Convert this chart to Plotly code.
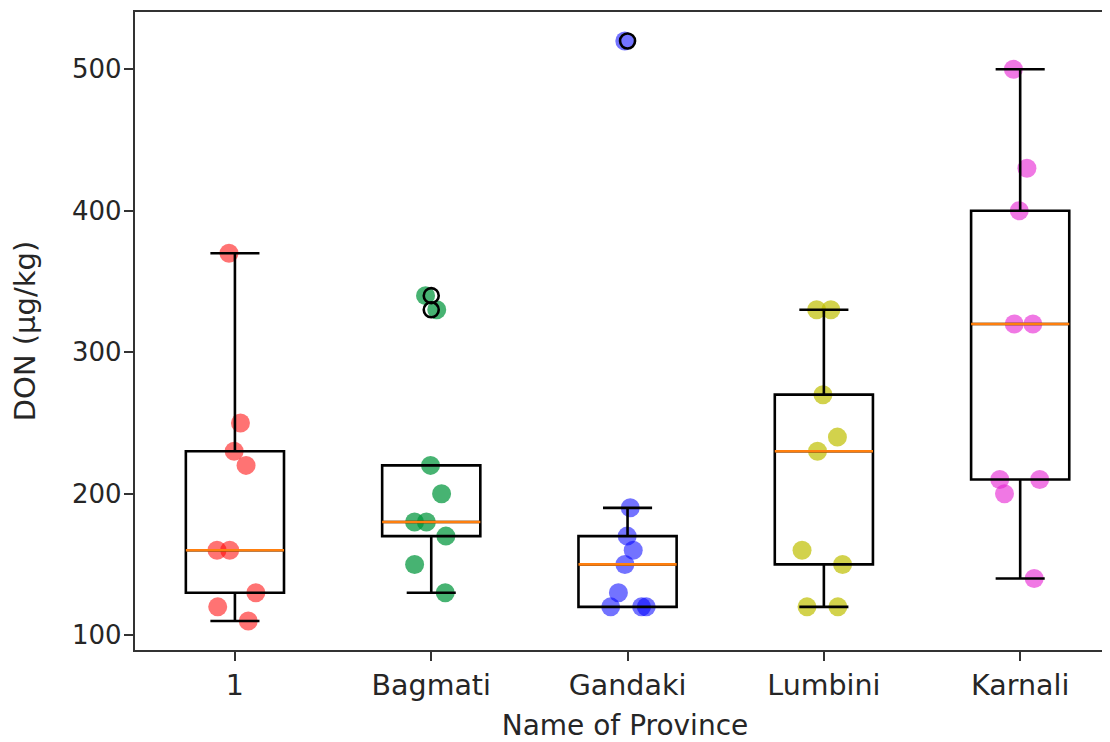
import numpy as np
import plotly.graph_objects as go

# ---- data ----
provinces = ["1", "Bagmati", "Gandaki", "Lumbini", "Karnali"]
prov_1 = [370, 250, 230, 220, 160, 160, 130, 120, 110]
bagmati = [340, 330, 220, 200, 180, 180, 170, 150, 130]
gandaki = [520, 190, 170, 160, 150, 130, 120, 120, 120]
lumbini = [330, 330, 270, 240, 230, 160, 150, 120, 120]
karnali = [500, 430, 400, 320, 320, 210, 210, 200, 140]
series = [prov_1, bagmati, gandaki, lumbini, karnali]

point_colors = [
    "rgba(255,0,0,0.55)",
    "rgba(0,150,60,0.72)",
    "rgba(0,0,255,0.55)",
    "rgba(191,191,0,0.7)",
    "rgba(230,30,210,0.6)",
]

FONT = "DejaVu Sans"
TXT = "#262626"
BOX_W = 0.5

fig = go.Figure()

# jittered points (drawn first, underneath the box lines)
for i, vals in enumerate(series):
    fig.add_trace(go.Box(
        x0=i + 1, y=vals, width=BOX_W,
        boxpoints="all", jitter=0.55, pointpos=0,
        fillcolor="rgba(0,0,0,0)", line=dict(color="rgba(0,0,0,0)", width=0),
        marker=dict(color=point_colors[i], size=19, line=dict(width=0)),
        showlegend=False, hoverinfo="y",
    ))

# box plots (matplotlib style)
for i, vals in enumerate(series):
    fig.add_trace(go.Box(
        x0=i + 1, y=vals, width=BOX_W, whiskerwidth=0.5,
        quartilemethod="inclusive",
        boxpoints="outliers", jitter=0, pointpos=0,
        fillcolor="rgba(0,0,0,0)", line=dict(color="black", width=2.6),
        marker=dict(symbol="circle-open", color="black", size=15,
                    line=dict(color="black", width=2.6)),
        showlegend=False,
    ))
    med = float(np.median(vals))
    fig.add_trace(go.Scatter(
        x=[i + 1 - BOX_W / 2, i + 1 + BOX_W / 2], y=[med, med],
        mode="lines", line=dict(color="#ff7f0e", width=2.6),
        showlegend=False, hoverinfo="skip",
    ))

axis_common = dict(
    showgrid=False, zeroline=False, showline=True, linecolor="#333",
    linewidth=2.4, ticks="outside", ticklen=9, tickwidth=2.2, tickcolor="#333",
)

# page body has an 8px default margin; the reference axes box runs past the right edge
fig.update_layout(
    width=1107, height=742,
    margin=dict(l=127, r=0, t=4, b=100),
    paper_bgcolor="white", plot_bgcolor="white",
    boxmode="overlay",
    showlegend=False,
    font=dict(family=FONT, size=28, color=TXT),
    xaxis=dict(
        range=[0.491, 5.483], tickmode="array",
        tickvals=[1, 2, 3, 4, 5], ticktext=provinces,
        mirror=True,
        tickfont=dict(family=FONT, size=28.5, color=TXT),
        title=dict(text="Name of Province", font=dict(family=FONT, size=28, color=TXT), standoff=14),
        **axis_common,
    ),
    yaxis=dict(
        range=[89.5, 540.5], tickmode="array",
        tickvals=[100, 200, 300, 400, 500],
        ticklabelstandoff=-3,
        tickfont=dict(family=FONT, size=26, color=TXT),
        title=dict(text="DON (µg/kg)", font=dict(family=FONT, size=29, color=TXT), standoff=30),
        **axis_common,
    ),
)

fig.write_html("out.html", config={"displayModeBar": False})
